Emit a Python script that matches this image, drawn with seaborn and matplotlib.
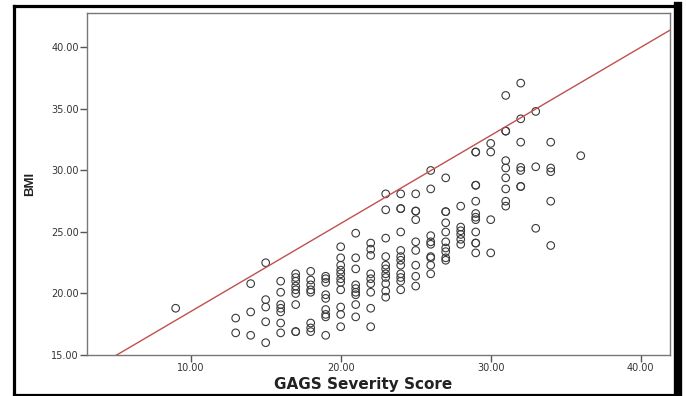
import numpy as np
import pandas as pd
import matplotlib
matplotlib.use("Agg")
import matplotlib.pyplot as plt
import seaborn as sns
from matplotlib.lines import Line2D

# BMI readings grouped by GAGS severity score
bmi_by_score = {
    9: [18.8],
    13: [18.0, 16.8],
    14: [20.8, 18.5, 16.6],
    15: [22.5, 19.5, 18.9, 17.7, 16.0],
    16: [21.0, 20.1, 19.1, 18.8, 18.5, 17.6, 16.8],
    17: [21.6, 21.3, 21.0, 20.6, 20.3, 20.0, 19.1, 16.9, 16.9],
    18: [21.8, 21.1, 20.7, 20.3, 20.1, 17.6, 17.2, 16.9],
    19: [21.4, 21.2, 20.9, 19.9, 19.6, 18.7, 18.3, 18.1, 16.6],
    20: [23.8, 22.9, 22.3, 21.9, 21.6, 21.2, 20.9, 20.3, 18.9, 18.3, 17.3],
    21: [24.9, 22.9, 22.0, 20.7, 20.4, 20.1, 19.9, 19.1, 18.1],
    22: [24.1, 23.6, 23.1, 21.6, 21.2, 20.8, 20.1, 18.8, 17.3],
    23: [28.1, 26.8, 24.5, 23.0, 22.3, 22.0, 21.6, 21.3, 20.8, 20.2, 19.7],
    24: [28.1, 26.9, 26.9, 25.0, 23.5, 23.0, 22.7, 22.3, 21.6, 21.3, 21.0, 20.3],
    25: [28.1, 26.7, 26.7, 26.0, 24.2, 23.5, 22.3, 21.4, 20.6],
    26: [30.0, 28.5, 24.7, 24.2, 24.0, 23.0, 22.9, 22.3, 21.6],
    27: [29.4, 26.65, 26.65, 25.75, 25.0, 24.2, 23.7, 23.4, 22.9, 22.7],
    28: [27.1, 25.4, 25.1, 24.8, 24.4, 24.0],
    29: [31.5, 31.5, 28.8, 28.8, 27.5, 26.5, 26.2, 26.0, 25.0, 24.1, 24.1, 23.3],
    30: [32.2, 31.5, 26.0, 23.3],
    31: [36.1, 33.2, 33.2, 30.8, 30.2, 29.4, 28.5, 27.5, 27.1],
    32: [37.1, 34.2, 32.3, 30.25, 30.0, 28.7, 28.7],
    33: [34.8, 30.3, 25.3],
    34: [32.3, 30.2, 29.9, 27.5, 23.9],
    36: [31.2],
}

# reference line drawn in red
line_intercept = 11.37
line_slope = 0.716

x_ticks = [10, 20, 30, 40]
y_ticks = [15, 20, 25, 30, 35, 40]

rows = [(s, b) for s, vals in bmi_by_score.items() for b in vals]
df = pd.DataFrame(rows, columns=["GAGS Severity Score", "BMI"])

sns.set_theme(style="white")
plt.rcParams["font.family"] = ["DejaVu Sans"]

fig = plt.figure(figsize=(6.86, 3.96), dpi=100)
ax = fig.add_axes([87 / 686, 41 / 396, 583 / 686, 342 / 396])

sns.scatterplot(data=df, x="GAGS Severity Score", y="BMI", ax=ax,
                marker="o", s=30, facecolors="none", edgecolor="#3a3a3a",
                linewidth=0.8, legend=False)

xlim = (3.09, 41.95)
ylim = (15.0, 42.8)
xs = np.array(xlim)
ax.plot(xs, line_intercept + line_slope * xs, color="#c0504d", lw=1.0)

ax.set_xlim(*xlim)
ax.set_ylim(*ylim)
ax.set_xticks(x_ticks)
ax.set_yticks(y_ticks)
ax.set_xticklabels([f"{t:.2f}" for t in x_ticks])
ax.set_yticklabels([f"{t:.2f}" for t in y_ticks])
ax.tick_params(axis="both", direction="out", length=5, width=1, color="#555555",
               labelsize=7, labelcolor="#333333", pad=1,
               bottom=True, left=True)

for sp in ax.spines.values():
    sp.set_color("#777777")
    sp.set_linewidth(1.0)

ax.set_xlabel("GAGS Severity Score", fontsize=11, fontweight="bold", color="#222222")
ax.set_ylabel("BMI", fontsize=9.5, fontweight="bold", color="#222222",
              family=["Liberation Sans", "DejaVu Sans"])
ax.xaxis.set_label_coords(0.473, -0.064)
ax.yaxis.set_label_coords(-0.0875, 0.5)

# thick black frame around the whole picture
frame_kw = dict(color="black", transform=fig.transFigure, solid_capstyle="projecting")
L, R, B, T = 13.5 / 686, 677.5 / 686, 1 - 394.5 / 396, 1 - 5.5 / 396
fig.add_artist(Line2D([L, R], [T, T], lw=2.3, **frame_kw))
fig.add_artist(Line2D([L, R], [B, B], lw=2.3, **frame_kw))
fig.add_artist(Line2D([L, L], [B, T], lw=2.3, **frame_kw))
fig.add_artist(Line2D([R, R], [B, T], lw=6.0, **frame_kw))

fig.savefig("out.png", dpi=100)
